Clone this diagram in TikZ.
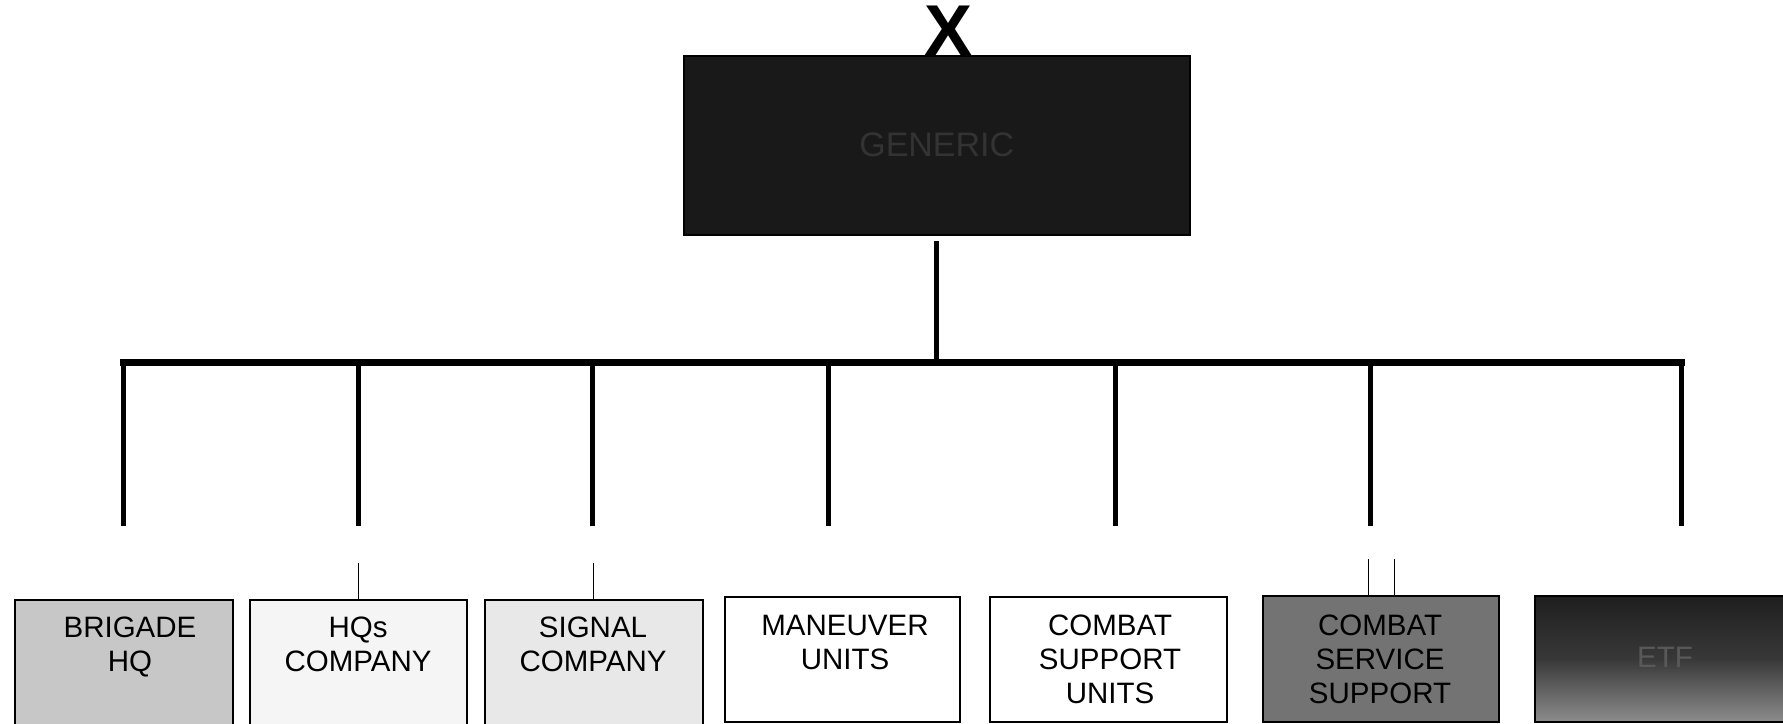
\documentclass[tikz,border=0pt]{standalone}
\usepackage{fontspec}
\setmainfont{Liberation Sans}
\begin{document}
\begin{tikzpicture}[x=1pt,y=-1pt,
  unit/.style={draw=black, line width=1.5pt, anchor=north west, inner sep=0pt},
  lbl/.style={anchor=north, inner sep=0pt, align=center, font=\fontsize{29.5}{34}\selectfont},
  busline/.style={line width=7pt, line cap=rect},
  dropline/.style={line width=5pt},
  tick/.style={line width=1.4pt}]
\useasboundingbox (0,0) rectangle (1783,723);

% top box
\node[unit, fill=black!90, minimum width=506, minimum height=179] (top) at (683,55) {};
\node[font=\fontsize{34}{34}\selectfont, text=black!80] (toptxt) at (top.center) {GENERIC};
\node[font=\fontsize{72}{72}\selectfont\bfseries, anchor=base, inner sep=0pt] (xsym) at (949,55) {X};

% bus coordinates
\coordinate (d1) at (123,362);  \coordinate (e1) at (123,526);
\coordinate (d2) at (358,362);  \coordinate (e2) at (358,526);
\coordinate (d3) at (592,362);  \coordinate (e3) at (592,526);
\coordinate (d4) at (828,362);  \coordinate (e4) at (828,526);
\coordinate (d5) at (1115,362); \coordinate (e5) at (1115,526);
\coordinate (d6) at (1370,362); \coordinate (e6) at (1370,526);
\coordinate (d7) at (1681,362); \coordinate (e7) at (1681,526);

\draw[dropline] ([yshift=-5pt]top.south) -- (top.south |- d1);
\draw[busline] (d1) -- (d7);
\foreach \i in {1,...,7} \draw[dropline] (d\i) -- (e\i);

% bottom boxes
\node[unit, fill=black!22, minimum width=218, minimum height=131] (bhq) at (14,599) {};
\node[unit, fill=black!4,  minimum width=217, minimum height=131] (hqc) at (249,599) {};
\node[unit, fill=black!9,  minimum width=218, minimum height=131] (sig) at (484,599) {};
\node[unit, fill=white,    minimum width=235, minimum height=125] (man) at (724,596) {};
\node[unit, fill=white,    minimum width=237, minimum height=125] (cs)  at (989,596) {};
\node[unit, fill=black!55, minimum width=236, minimum height=126] (css) at (1262,595) {};
\node[unit, top color=black!88, bottom color=black!45, middle color=black!78,
      minimum width=260, minimum height=126] (etf) at (1534,595) {};

% small ticks above boxes
\draw[tick] (hqc.north) -- ++(0,-36);
\draw[tick] (sig.north) -- ++(0,-36);
\draw[tick] ([xshift=-12pt]css.north) -- ++(0,-36);
\draw[tick] ([xshift=14pt]css.north) -- ++(0,-36);

% labels
\node[lbl] (bhqt) at (130,617) {BRIGADE\\HQ};
\node[lbl] (hqct) at (358,617) {HQs\\COMPANY};
\node[lbl] (sigt) at (593,617) {SIGNAL\\COMPANY};
\node[lbl] (mant) at (845,615) {MANEUVER\\UNITS};
\node[lbl] (cst)  at (1110,615) {COMBAT\\SUPPORT\\UNITS};
\node[lbl] (csst) at (1380,615) {COMBAT\\SERVICE\\SUPPORT};
\node[lbl, anchor=west, text=black!65] (etft) at (1637,657) {ETF};
\end{tikzpicture}
\end{document}
